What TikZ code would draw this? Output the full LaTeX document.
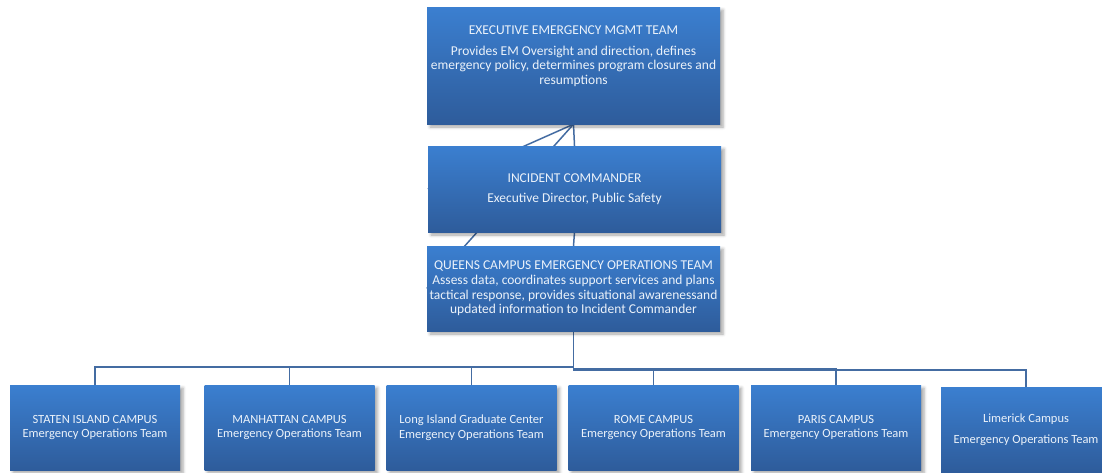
\documentclass[tikz,border=0pt]{standalone}
\usepackage{fontspec}
\setmainfont{Carlito}
\usepackage{tikz}
\usetikzlibrary{shadows.blur,backgrounds}
\definecolor{boxtop}{RGB}{59,127,208}
\definecolor{boxbot}{RGB}{46,92,155}
\definecolor{linkblue}{RGB}{68,108,162}
\tikzset{orgbox/.style={rectangle,top color=boxtop,bottom color=boxbot,text=white!90!boxtop,
    font=\fontsize{12.5}{14.5}\selectfont,align=center,inner sep=0pt,
    minimum width=170pt,minimum height=85pt,
    blur shadow={shadow xshift=3pt,shadow yshift=-3pt,shadow blur radius=3pt,shadow opacity=35}},
  bigbox/.style={orgbox,minimum width=293pt,font=\fontsize{13.5}{14.6}\selectfont},
  orglink/.style={draw=linkblue,line width=1.5pt}}

\begin{document}
\begin{tikzpicture}[x=1pt,y=-1pt]
    \useasboundingbox (0,0) rectangle (1102,472);
    \clip (0,0) rectangle (1102,472);
    \node[bigbox,minimum height=117pt] (exec) at (573.5,65.5)
      {\parbox[c][117pt][t]{292pt}{\centering\vspace*{19pt}EXECUTIVE EMERGENCY MGMT TEAM\\[6pt]
       Provides EM Oversight and direction, defines\\
       emergency policy, determines program closures and\\
       resumptions}};
    \node[bigbox,minimum height=86pt] (ic) at (574.5,189)
      {INCIDENT COMMANDER\\[5pt] Executive Director, Public Safety};
    \node[bigbox,minimum height=85pt] (queens) at (573.5,288.5)
      {QUEENS CAMPUS EMERGENCY OPERATIONS TEAM\\
       Assess data, coordinates support services and plans\\
       tactical response, provides situational awarenessand\\
       updated information to Incident Commander};
    \foreach \name/\xc/\txt in {staten/95/{STATEN ISLAND CAMPUS\\Emergency Operations Team},
        manhattan/289.5/{MANHATTAN CAMPUS\\Emergency Operations Team},
        lig/471.5/{Long Island Graduate Center\\Emergency Operations Team},
        rome/653.5/{ROME CAMPUS\\Emergency Operations Team},
        paris/836/{PARIS CAMPUS\\Emergency Operations Team}} {
      \node[orgbox] (\name) at (\xc,427.5) {\txt};
    }
    \node[orgbox] (limerick) at (1026,429.5) {Limerick Campus\\[7pt]Emergency Operations Team};

    \begin{scope}[on background layer]
      \draw[orglink] (exec.south) -- (ic.north);
      \draw[orglink] (exec.south) -- (ic.west);
      \draw[orglink] (exec.south) -- (queens.west);
      \draw[orglink] (ic.south) -- (queens.north);
      \foreach \name/\dy in {staten/36,manhattan/36,lig/36,rome/38,paris/38,limerick/39} {
        \draw[orglink] (queens.south) -- ++(0,\dy) -| (\name.north);
      }
    \end{scope}
  \end{tikzpicture}
\end{document}
